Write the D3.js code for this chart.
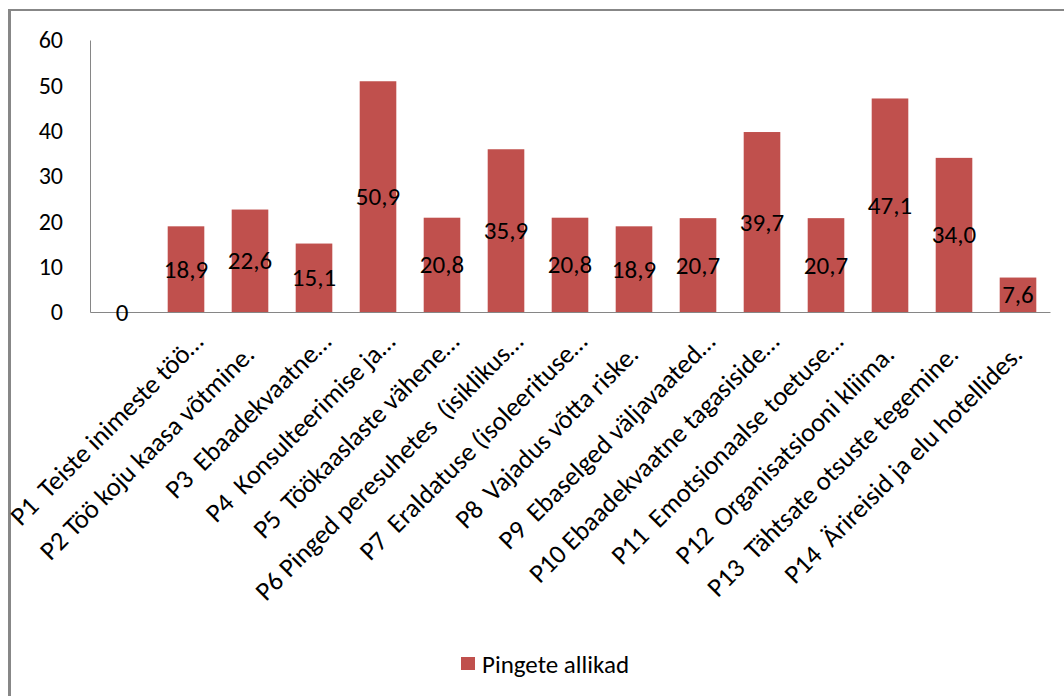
<!DOCTYPE html>
<html>
<head>
<meta charset="utf-8">
<script src="https://cdn.jsdelivr.net/npm/d3@7"></script>
<style>
    body { margin: 0; background: #fff; }
    text { font-family: Carlito, Calibri, "Open Sans", sans-serif; fill: #000; }
</style>
</head>
<body>
<svg id="chart"></svg>
<script>
const categories = [
    '',
    'P1  Teiste inimeste töö…',
    'P2 Töö koju kaasa võtmine.',
    'P3  Ebaadekvaatne…',
    'P4  Konsulteerimise ja…',
    'P5  Töökaaslaste vähene…',
    'P6 Pinged peresuhetes  (isiklikus…',
    'P7  Eraldatuse (isoleerituse…',
    'P8  Vajadus võtta riske.',
    'P9  Ebaselged väljavaated…',
    'P10 Ebaadekvaatne tagasiside…',
    'P11  Emotsionaalse toetuse…',
    'P12  Organisatsiooni kliima.',
    'P13  Tähtsate otsuste tegemine.',
    'P14  Ärireisid ja elu hotellides.'
];
const values = [0, 18.9, 22.6, 15.1, 50.9, 20.8, 35.9, 20.8, 18.9, 20.7, 39.7, 20.7, 47.1, 34.0, 7.6];
const yticks = [0, 10, 20, 30, 40, 50, 60];
const series_name = 'Pingete allikad';

const width = 1064, height = 696;
const margin = {top: 40, right: 14, bottom: 384, left: 90};
const inner_width = width - margin.left - margin.right;
const inner_height = height - margin.top - margin.bottom;
const bar_color = '#c0504d';
const axis_color = '#868686';

const data = categories.map((c, i) => ({cat: c, value: values[i]}));

const svg = d3.select('#chart')
    .attr('width', width)
    .attr('height', height);

// outer frame (only top and left edges visible)
svg.append('line')
    .attr('x1', 8).attr('x2', width)
    .attr('y1', 10).attr('y2', 10)
    .attr('stroke', '#878787').attr('stroke-width', 2);
svg.append('line')
    .attr('x1', 9.5).attr('x2', 9.5)
    .attr('y1', 9).attr('y2', height)
    .attr('stroke', '#878787').attr('stroke-width', 3);

const chart = svg.append('g')
    .attr('transform', `translate(${margin.left}, ${margin.top})`);

const xscale = d3.scaleBand()
    .domain(categories)
    .range([0, inner_width])
    .paddingInner(0.428)
    .paddingOuter(0.214);

const yscale = d3.scaleLinear()
    .domain([0, 60])
    .range([inner_height, 0]);

const fmt = v => v === 0 ? '0' : v.toFixed(1).replace('.', ',');

// bars
chart.selectAll('rect.bar')
    .data(data)
    .join('rect')
    .attr('class', 'bar')
    .attr('x', d => xscale(d.cat))
    .attr('y', d => yscale(d.value))
    .attr('width', xscale.bandwidth())
    .attr('height', d => inner_height - yscale(d.value))
    .attr('fill', bar_color);

// y axis
const yaxis_group = chart.append('g')
    .call(d3.axisLeft(yscale).tickValues(yticks).tickSize(0).tickPadding(27));
yaxis_group.select('.domain').attr('stroke', axis_color);
yaxis_group.selectAll('text')
    .style('font-size', '24px')
    .attr('fill', '#000');

// x axis with rotated labels
const ellipsis_shift = 18;
const xaxis_group = chart.append('g')
    .attr('transform', `translate(0, ${inner_height})`)
    .call(d3.axisBottom(xscale).tickSize(0).tickSizeOuter(0));
xaxis_group.select('.domain').attr('stroke', axis_color);
xaxis_group.selectAll('text')
    .style('font-size', '26.5px')
    .style('white-space', 'pre')
    .attr('fill', '#000')
    .attr('text-anchor', 'end')
    .attr('x', 0).attr('y', 0).attr('dy', 0)
    .attr('transform', d => {
        const s = d.endsWith('…') ? ellipsis_shift / Math.SQRT2 : 0;
        return `translate(${6 + s}, ${44 - s}) rotate(-45)`;
    });

// data labels, centred in bars
chart.selectAll('text.label')
    .data(data)
    .join('text')
    .attr('class', 'label')
    .attr('x', d => xscale(d.cat) + xscale.bandwidth() / 2)
    .attr('y', d => (yscale(d.value) + inner_height) / 2)
    .attr('text-anchor', 'middle')
    .attr('dominant-baseline', 'central')
    .style('font-size', '25px')
    .text(d => fmt(d.value));

// legend
const legend = svg.append('g')
    .attr('transform', 'translate(461, 657)');
legend.append('rect')
    .attr('width', 14).attr('height', 13)
    .attr('fill', bar_color);
legend.append('text')
    .attr('x', 21).attr('y', 7)
    .attr('dominant-baseline', 'central')
    .style('font-size', '25px')
    .text(series_name);
</script>
</body>
</html>
